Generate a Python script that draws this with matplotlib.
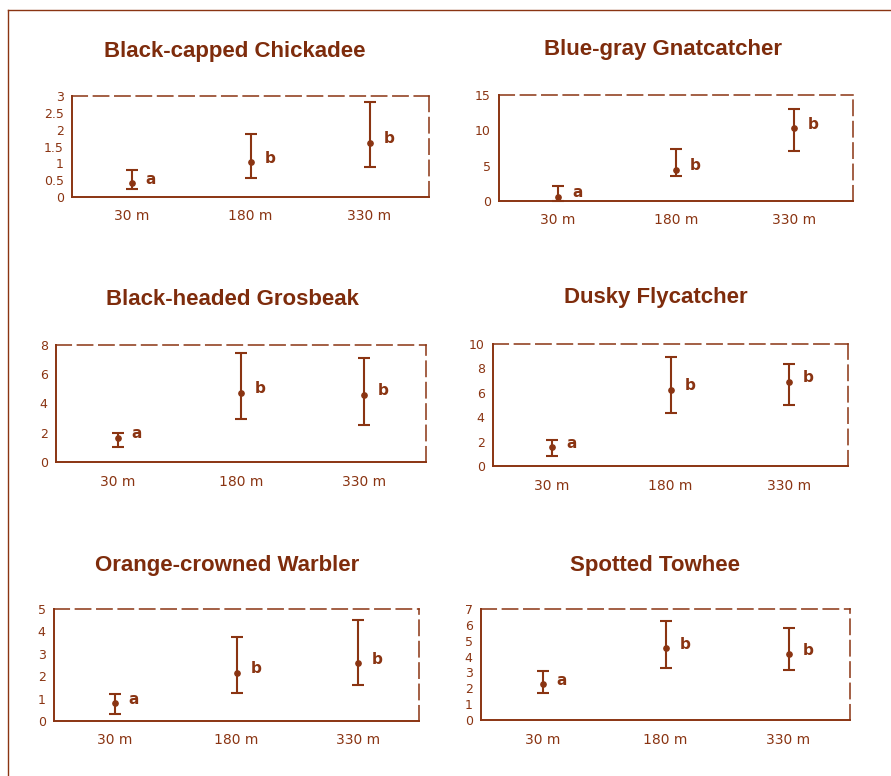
import matplotlib
matplotlib.use("Agg")
import matplotlib.pyplot as plt
from matplotlib.lines import Line2D

plt.rcParams['font.family'] = ['DejaVu Sans']

BROWN = '#8a3412'
TITLE_BROWN = '#7e2c0c'
W, H = 891, 776

categories = ['30 m', '180 m', '330 m']

titles = ['Black-capped Chickadee', 'Blue-gray Gnatcatcher',
          'Black-headed Grosbeak', 'Dusky Flycatcher',
          'Orange-crowned Warbler', 'Spotted Towhee']

chickadee_mean = [0.41, 1.03, 1.61]
chickadee_lo = [0.23, 0.55, 0.88]
chickadee_hi = [0.80, 1.86, 2.81]

gnatcatcher_mean = [0.57, 4.4, 10.3]
gnatcatcher_lo = [0.0, 3.6, 7.1]
gnatcatcher_hi = [2.1, 7.3, 13.0]

grosbeak_mean = [1.64, 4.75, 4.6]
grosbeak_lo = [1.0, 2.93, 2.5]
grosbeak_hi = [2.0, 7.43, 7.1]

flycatcher_mean = [1.53, 6.23, 6.9]
flycatcher_lo = [0.84, 4.37, 5.0]
flycatcher_hi = [2.13, 8.9, 8.4]

warbler_mean = [0.79, 2.16, 2.57]
warbler_lo = [0.33, 1.27, 1.6]
warbler_hi = [1.2, 3.77, 4.5]

towhee_mean = [2.25, 4.52, 4.14]
towhee_lo = [1.68, 3.26, 3.15]
towhee_hi = [3.09, 6.24, 5.82]

letters = [['a', 'b', 'b']] * 6

yticks = [
    [0, 0.5, 1, 1.5, 2, 2.5, 3],
    [0, 5, 10, 15],
    [0, 2, 4, 6, 8],
    [0, 2, 4, 6, 8, 10],
    [0, 1, 2, 3, 4, 5],
    [0, 1, 2, 3, 4, 5, 6, 7],
]
yticklabels = [
    ['0', '0.5', '1', '1.5', '2', '2.5', '3'],
    ['0', '5', '10', '15'],
    ['0', '2', '4', '6', '8'],
    ['0', '2', '4', '6', '8', '10'],
    ['0', '1', '2', '3', '4', '5'],
    ['0', '1', '2', '3', '4', '5', '6', '7'],
]

means = [chickadee_mean, gnatcatcher_mean, grosbeak_mean, flycatcher_mean, warbler_mean, towhee_mean]
los = [chickadee_lo, gnatcatcher_lo, grosbeak_lo, flycatcher_lo, warbler_lo, towhee_lo]
his = [chickadee_hi, gnatcatcher_hi, grosbeak_hi, flycatcher_hi, warbler_hi, towhee_hi]

# pixel boxes (left, right, top, bottom)
boxes = [
    (72, 429, 96, 197),
    (499, 853, 95, 201),
    (56, 426, 345, 462),
    (493, 848, 344, 466),
    (54, 419, 609, 721),
    (481, 850, 609, 720),
]
title_pos = [(235, 52), (663, 50), (232, 300), (656, 298), (227, 565), (655, 565)]

fig = plt.figure(figsize=(W / 100, H / 100), dpi=100)

# outer frame of the scanned page
fig.add_artist(Line2D([8 / W, 1.0], [1 - 10 / H, 1 - 10 / H], color=BROWN, lw=1.0,
                      transform=fig.transFigure))
fig.add_artist(Line2D([8 / W, 8 / W], [0, 1 - 10 / H], color=BROWN, lw=1.0,
                      transform=fig.transFigure))

for i in range(6):
    l, r, t, b = boxes[i]
    ax = fig.add_axes([l / W, 1 - b / H, (r - l) / W, (b - t) / H])
    x = list(range(len(categories)))
    m = means[i]
    lo = [m[k] - los[i][k] for k in range(3)]
    hi = [his[i][k] - m[k] for k in range(3)]
    ax.errorbar(x, m, yerr=[lo, hi], fmt='o', color=BROWN, ms=3.8,
                elinewidth=1.5, capsize=4.5, capthick=1.5, clip_on=False)
    for k in range(3):
        ax.annotate(letters[i][k], (x[k], m[k]), xytext=(10, 3),
                    textcoords='offset points', color=BROWN, fontsize=11,
                    fontweight='bold', va='center', ha='left')
    ax.set_xlim(-0.5, 2.5)
    ax.set_ylim(yticks[i][0], yticks[i][-1])
    ax.set_yticks(yticks[i])
    ax.set_yticklabels(yticklabels[i])
    ax.set_xticks(x)
    ax.set_xticklabels(categories)
    ax.tick_params(axis='both', length=0, colors=BROWN)
    ax.tick_params(axis='x', pad=9, labelsize=10)
    ax.tick_params(axis='y', pad=6, labelsize=9)
    for s in ['left', 'bottom']:
        ax.spines[s].set_color(BROWN)
        ax.spines[s].set_linewidth(1.4)
    for s in ['top', 'right']:
        ax.spines[s].set_color(BROWN)
        ax.spines[s].set_linewidth(1.1)
        ax.spines[s].set_linestyle((0, (10, 4)))
    ax.patch.set_alpha(0)
    tx, ty = title_pos[i]
    fig.text(tx / W, 1 - ty / H, titles[i], ha='center', va='center',
             color=TITLE_BROWN, fontsize=16, fontweight='bold',
             family=['Liberation Sans', 'DejaVu Sans'])

fig.savefig('out.png', dpi=100, facecolor='white')
